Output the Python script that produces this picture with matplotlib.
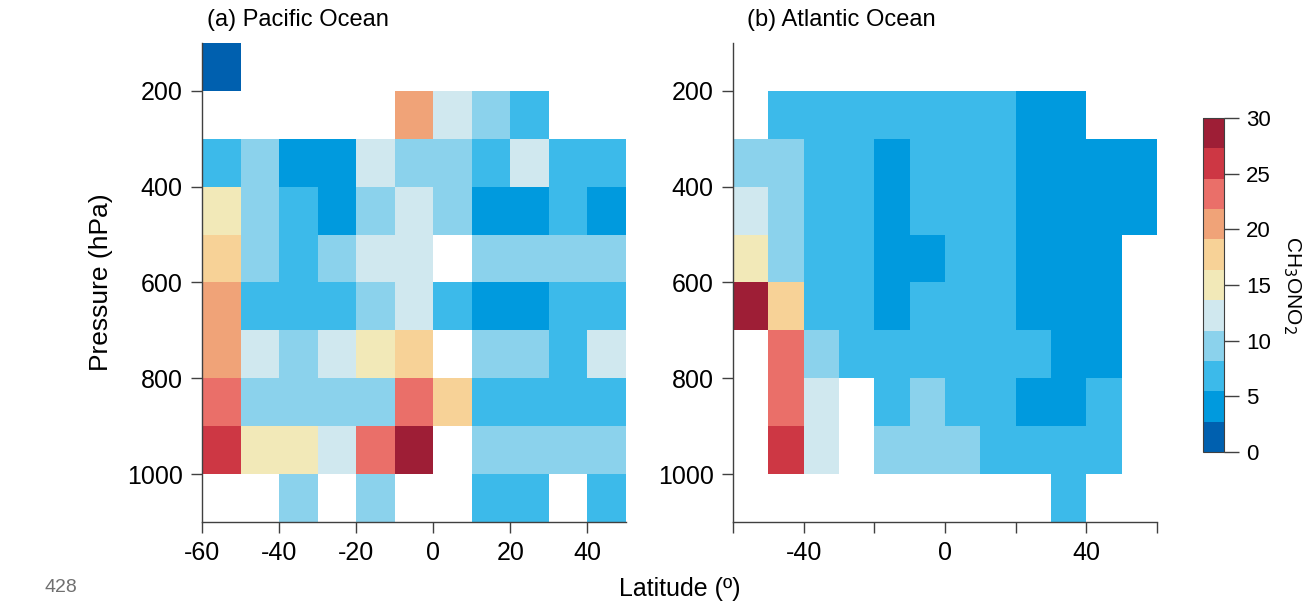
import numpy as np
import matplotlib
matplotlib.use("Agg")
import matplotlib.pyplot as plt
from matplotlib.colors import ListedColormap, BoundaryNorm
from matplotlib.ticker import NullLocator

plt.rcParams['font.family'] = ['Liberation Sans', 'DejaVu Sans']

# pressure bin edges (hPa) and latitude bin edges (deg)
pres_edges = np.arange(100, 1101, 100)
lat_edges_pac = np.arange(-60, 51, 10)
lat_edges_atl = np.arange(-60, 61, 10)

nan = np.nan
# CH3ONO2 mixing ratios, rows = pressure bins 100-200 ... 1000-1100
pacific = np.array([
    [1.4, nan, nan, nan, nan, nan, nan, nan, nan, nan, nan],
    [nan, nan, nan, nan, nan, 20.5, 12.3, 9.5, 6.8, nan, nan],
    [6.8, 9.5, 4.1, 4.1, 12.3, 9.5, 9.5, 6.8, 12.3, 6.8, 6.8],
    [15.0, 9.5, 6.8, 4.1, 9.5, 12.3, 9.5, 4.1, 4.1, 6.8, 4.1],
    [17.7, 9.5, 6.8, 9.5, 12.3, 12.3, nan, 9.5, 9.5, 9.5, 9.5],
    [20.5, 6.8, 6.8, 6.8, 9.5, 12.3, 6.8, 4.1, 4.1, 6.8, 6.8],
    [20.5, 12.3, 9.5, 12.3, 15.0, 17.7, nan, 9.5, 9.5, 6.8, 12.3],
    [23.2, 9.5, 9.5, 9.5, 9.5, 23.2, 17.7, 6.8, 6.8, 6.8, 6.8],
    [25.9, 15.0, 15.0, 12.3, 23.2, 28.6, nan, 9.5, 9.5, 9.5, 9.5],
    [nan, nan, 9.5, nan, 9.5, nan, nan, 6.8, 6.8, nan, 6.8],
])
atlantic = np.array([
    [nan, nan, nan, nan, nan, nan, nan, nan, nan, nan, nan, nan],
    [nan, 6.8, 6.8, 6.8, 6.8, 6.8, 6.8, 6.8, 4.1, 4.1, nan, nan],
    [9.5, 9.5, 6.8, 6.8, 4.1, 6.8, 6.8, 6.8, 4.1, 4.1, 4.1, 4.1],
    [12.3, 9.5, 6.8, 6.8, 4.1, 6.8, 6.8, 6.8, 4.1, 4.1, 4.1, 4.1],
    [15.0, 9.5, 6.8, 6.8, 4.1, 4.1, 6.8, 6.8, 4.1, 4.1, 4.1, nan],
    [28.6, 17.7, 6.8, 6.8, 4.1, 6.8, 6.8, 6.8, 4.1, 4.1, 4.1, nan],
    [nan, 23.2, 9.5, 6.8, 6.8, 6.8, 6.8, 6.8, 6.8, 4.1, 4.1, nan],
    [nan, 23.2, 12.3, nan, 6.8, 9.5, 6.8, 6.8, 4.1, 4.1, 6.8, nan],
    [nan, 25.9, 12.3, nan, 9.5, 9.5, 9.5, 6.8, 6.8, 6.8, 6.8, nan],
    [nan, nan, nan, nan, nan, nan, nan, nan, nan, 6.8, nan, nan],
])

level_colors = ['#0060AF', '#009ADE', '#3CBAEA', '#8BD2EC', '#D0E8EF', '#F2E9B8',
                '#F7D297', '#F0A378', '#EA6F69', '#CD3744', '#9E1E36']
cmap = ListedColormap(level_colors)
norm = BoundaryNorm(np.linspace(0, 30, len(level_colors) + 1), cmap.N)

fig = plt.figure(figsize=(13.14, 6.04), dpi=100)

def px_axes(x0, y0, x1, y1):
    return fig.add_axes([x0 / 1314, 1 - y1 / 604, (x1 - x0) / 1314, (y1 - y0) / 604])

spine_col = '#404040'

def style(ax, xedges, xticks, xlabels):
    ax.set_xlim(xedges[0], xedges[-1])
    ax.set_ylim(1100, 100)
    ax.set_yticks([200, 400, 600, 800, 1000])
    ax.set_xticks(xticks)
    ax.set_xticklabels(xlabels)
    for s in ['top', 'right']:
        ax.spines[s].set_visible(False)
    for s in ['left', 'bottom']:
        ax.spines[s].set_color(spine_col)
        ax.spines[s].set_linewidth(1.0)
    ax.tick_params(direction='out', length=8, width=1, color=spine_col,
                   labelsize=18, pad=6)

ax1 = px_axes(202, 43, 626, 522)
ax1.pcolormesh(lat_edges_pac, pres_edges, np.ma.masked_invalid(pacific),
               cmap=cmap, norm=norm)
style(ax1, lat_edges_pac, [-60, -40, -20, 0, 20, 40],
      ['-60', '-40', '-20', '0', '20', '40'])
fig.text(207 / 1314, 1 - 20 / 604, '(a) Pacific Ocean', fontsize=17,
         va='center', ha='left')

ax2 = px_axes(733, 43, 1157, 522)
ax2.pcolormesh(lat_edges_atl, pres_edges, np.ma.masked_invalid(atlantic),
               cmap=cmap, norm=norm)
style(ax2, lat_edges_atl, [-60, -40, -20, 0, 20, 40, 60],
      ['', '-40', '', '0', '', '40', ''])
fig.text(747 / 1314, 1 - 20 / 604, '(b) Atlantic Ocean', fontsize=17,
         va='center', ha='left')

cax = px_axes(1203, 118, 1224, 452)
sm = plt.cm.ScalarMappable(cmap=cmap, norm=norm)
cb = fig.colorbar(sm, cax=cax, ticks=[0, 5, 10, 15, 20, 25, 30])
cb.outline.set_edgecolor(spine_col)
cb.ax.yaxis.set_minor_locator(NullLocator())
cb.ax.tick_params(length=11, width=1, color=spine_col, labelsize=16, pad=5)
fig.text(1292 / 1314, 1 - 285 / 604, 'CH$_3$ONO$_2$', rotation=-90, fontsize=15,
         ha='center', va='center')

fig.text(101 / 1314, 1 - 282 / 604, 'Pressure (hPa)', rotation=90, fontsize=19,
         ha='center', va='center')
fig.text(680 / 1314, 1 - 589 / 604, 'Latitude (º)', fontsize=18, ha='center', va='center')
fig.text(61 / 1314, 1 - 588 / 604, '428', fontsize=14, color='#707070',
         ha='center', va='center')

fig.savefig('out.png', dpi=100)
